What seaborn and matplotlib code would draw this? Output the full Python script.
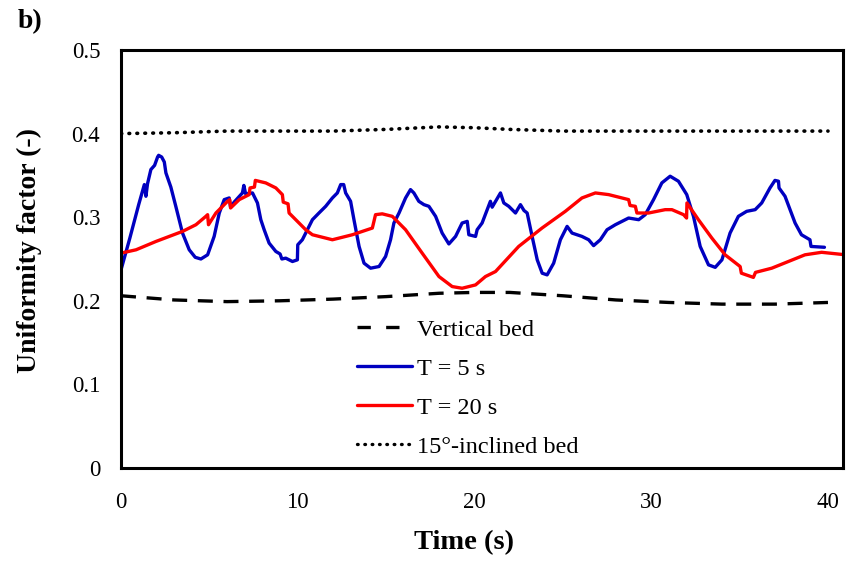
import numpy as np
import pandas as pd
import matplotlib
matplotlib.use("Agg")
import matplotlib.pyplot as plt
import seaborn as sns

# ---- data ----
t_vert = [0, 3, 6, 9, 12, 15, 18, 20, 22, 25, 28, 31, 34, 37, 40]
u_vert = [0.206, 0.201, 0.199, 0.200, 0.202, 0.205, 0.209, 0.210, 0.210,
          0.206, 0.201, 0.198, 0.196, 0.196, 0.198]

t_incl = [0, 3, 6, 9, 12, 15, 18, 20, 22, 25, 28, 31, 34, 37, 40]
u_incl = [0.400, 0.401, 0.403, 0.403, 0.403, 0.405, 0.408, 0.407, 0.405,
          0.403, 0.403, 0.403, 0.403, 0.403, 0.403]

t_5 = [0.0, 0.5, 1.0, 1.32, 1.41, 1.5, 1.69, 1.9, 2.07, 2.13, 2.3, 2.45, 2.54,
       2.82, 3.1, 3.48, 3.86, 4.2, 4.52, 4.9, 5.27, 5.56, 5.84, 6.12, 6.2, 6.4,
       6.87, 6.95, 7.05, 7.44, 7.72, 7.91, 8.1, 8.38, 8.76, 9.0, 9.1, 9.32, 9.7,
       9.98, 10.0, 10.26, 10.83, 11.2, 11.58, 11.96, 12.24, 12.43, 12.6, 12.71,
       12.99, 13.18, 13.47, 13.75, 14.12, 14.6, 14.97, 15.25, 15.44, 15.73,
       16.1, 16.38, 16.57, 16.85, 17.14, 17.42, 17.8, 18.17, 18.55, 18.93,
       19.3, 19.59, 19.68, 20.06, 20.15, 20.43, 20.9, 21.0, 21.47, 21.66,
       21.94, 22.32, 22.6, 22.8, 22.98, 23.26, 23.55, 23.83, 24.11, 24.48,
       24.86, 25.24, 25.52, 26.08, 26.46, 26.74, 27.12, 27.5, 27.97, 28.34,
       28.72, 29.29, 29.66, 30.13, 30.6, 31.07, 31.54, 32.01, 32.39, 32.77,
       33.24, 33.62, 34.0, 34.46, 34.93, 35.4, 35.88, 36.25, 36.72, 37.0,
       37.2, 37.23, 37.57, 38.14, 38.5, 38.98, 39.04, 39.8]
u_5 = [0.237, 0.275, 0.315, 0.339, 0.325, 0.340, 0.357, 0.362, 0.372, 0.374,
       0.372, 0.366, 0.353, 0.336, 0.313, 0.281, 0.261, 0.252, 0.250, 0.255,
       0.277, 0.305, 0.321, 0.323, 0.312, 0.318, 0.329, 0.338, 0.328, 0.329,
       0.317, 0.297, 0.285, 0.269, 0.259, 0.256, 0.250, 0.251, 0.247, 0.249,
       0.267, 0.273, 0.297, 0.305, 0.313, 0.323, 0.329, 0.339, 0.339, 0.329,
       0.319, 0.297, 0.265, 0.245, 0.239, 0.241, 0.253, 0.273, 0.293, 0.305,
       0.323, 0.333, 0.329, 0.319, 0.315, 0.313, 0.301, 0.281, 0.268, 0.277,
       0.293, 0.295, 0.279, 0.277, 0.285, 0.293, 0.319, 0.312, 0.329, 0.317,
       0.313, 0.305, 0.315, 0.308, 0.305, 0.277, 0.249, 0.233, 0.231, 0.245,
       0.273, 0.289, 0.281, 0.277, 0.273, 0.266, 0.273, 0.285, 0.291, 0.295,
       0.299, 0.297, 0.303, 0.321, 0.341, 0.349, 0.343, 0.327, 0.301, 0.265,
       0.243, 0.240, 0.249, 0.281, 0.301, 0.307, 0.309, 0.317, 0.335, 0.344,
       0.343, 0.335, 0.325, 0.293, 0.279, 0.273, 0.265, 0.264]

t_20 = [0.0, 0.85, 1.98, 3.48, 4.24, 4.8, 4.9, 4.95, 5.37, 6.03, 6.15, 6.2,
        6.69, 7.25, 7.3, 7.55, 7.6, 8.19, 8.76, 9.13, 9.18, 9.45, 9.51, 9.98,
        10.45, 10.83, 11.96, 13.09, 14.22, 14.3, 14.4, 14.78, 15.35, 16.1,
        17.04, 17.99, 18.74, 19.3, 20.06, 20.62, 21.19, 22.5, 23.82, 25.14,
        26.08, 26.84, 27.59, 28.72, 28.8, 29.1, 29.19, 29.85, 30.79, 31.17,
        31.83, 32.0, 32.02, 32.67, 33.43, 34.18, 35.03, 35.1, 35.78, 35.9,
        36.82, 37.76, 38.7, 39.64, 41.0]
u_20 = [0.257, 0.261, 0.271, 0.283, 0.291, 0.301, 0.303, 0.291, 0.305, 0.319,
        0.321, 0.311, 0.321, 0.327, 0.335, 0.336, 0.344, 0.341, 0.335, 0.327,
        0.318, 0.316, 0.305, 0.295, 0.285, 0.279, 0.273, 0.279, 0.287, 0.294,
        0.303, 0.304, 0.301, 0.285, 0.257, 0.229, 0.217, 0.215, 0.219, 0.229,
        0.235, 0.265, 0.287, 0.307, 0.323, 0.329, 0.327, 0.321, 0.314, 0.313,
        0.305, 0.305, 0.309, 0.309, 0.303, 0.299, 0.317, 0.297, 0.275, 0.255,
        0.241, 0.233, 0.228, 0.234, 0.239, 0.247, 0.255, 0.258, 0.255]

x_ticks = [0, 10, 20, 30, 40]
y_ticks = [0, 0.1, 0.2, 0.3, 0.4, 0.5]
y_tick_labels = ["0", "0.1", "0.2", "0.3", "0.4", "0.5"]

# ---- plot ----
sns.set_theme(style="white")
plt.rcParams['font.family'] = ['Liberation Serif', 'DejaVu Serif']
plt.rcParams['text.color'] = 'black'
plt.rcParams['axes.labelcolor'] = 'black'

fig = plt.figure(figsize=(8.48, 5.61), dpi=100)
ax = fig.add_axes([0.1427, 0.1658, 0.8514, 0.7451])

lw = 2.4
sns.lineplot(x=t_vert, y=u_vert, ax=ax, color="black", lw=lw,
             label="Vertical bed", estimator=None, sort=False)
ax.lines[-1].set_dashes((4.5, 3.2))
sns.lineplot(x=t_5, y=u_5, ax=ax, color="#0000C0", lw=lw,
             label="T = 5 s", estimator=None, sort=False)
sns.lineplot(x=t_20, y=u_20, ax=ax, color="#FF0000", lw=lw,
             label="T = 20 s", estimator=None, sort=False)
sns.lineplot(x=t_incl, y=u_incl, ax=ax, color="black", lw=2.6,
             label="15°-inclined bed", estimator=None, sort=False)
ax.lines[-1].set_dashes((0.2, 2.0))
ax.lines[-1].set_dash_capstyle("round")

ax.set_xlim(0, 40.85)
ax.set_ylim(0, 0.5)
ax.set_xticks(x_ticks)
ax.set_xticklabels([str(v) for v in x_ticks])
ax.set_yticks(y_ticks)
ax.set_yticklabels(y_tick_labels)
ax.tick_params(direction="in", length=6, width=2, labelsize=16.5, colors="black")
ax.tick_params(axis="y", pad=15)
ax.tick_params(axis="x", pad=17)
for s in ax.spines.values():
    s.set_linewidth(2.2)
    s.set_color("black")

ax.set_xlabel("Time (s)", fontsize=20.5, fontweight="bold", color="black")
ax.set_ylabel("Uniformity factor (-)", fontsize=20, fontweight="bold", color="black")
ax.xaxis.set_label_coords(0.475, -0.148)
ax.yaxis.set_label_coords(-0.110, 0.52)

leg = ax.legend(loc="upper left", bbox_to_anchor=(0.327, 0.357), frameon=False,
                fontsize=17.5, handlelength=2.26, handletextpad=0.2,
                labelspacing=0.70, borderpad=0, borderaxespad=0)
leg_lines = leg.get_lines()
for h in leg_lines:
    h.set_linewidth(2.4)
leg_lines[0].set_dashes((4.0, 4.6))
for t in leg.get_texts():
    t.set_color("black")

fig.text(0.021, 0.961, "b)", fontsize=20, fontweight="bold", va="center",
         color="black")

fig.savefig("out.png", dpi=100)
